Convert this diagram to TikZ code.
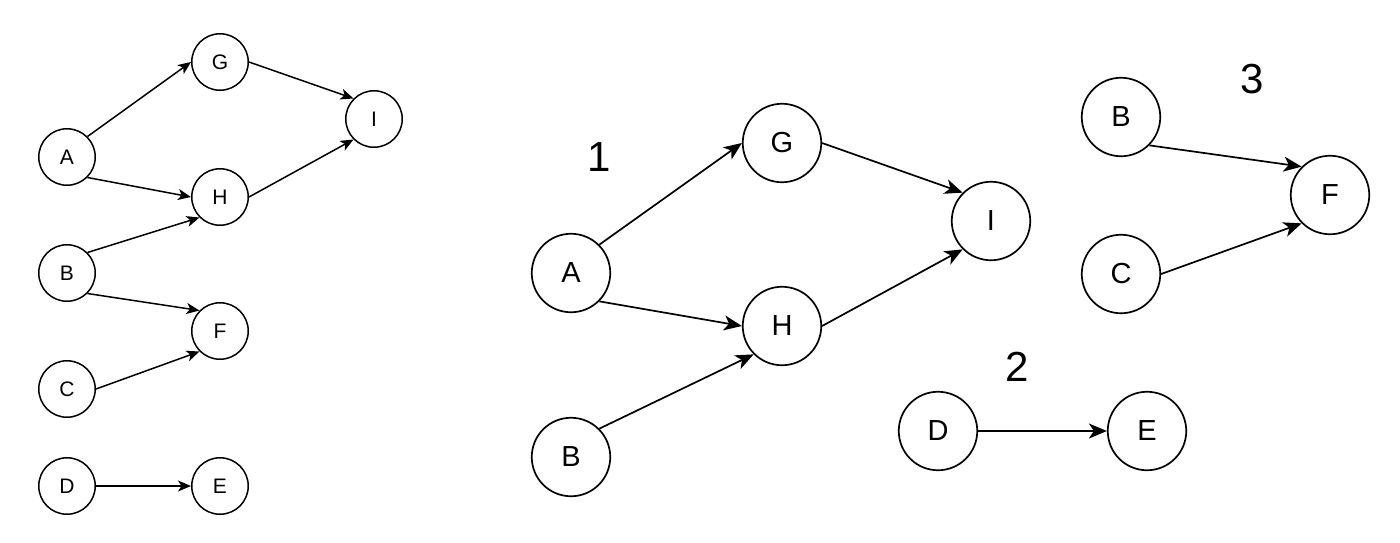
\documentclass[tikz,border=0pt]{standalone}
\usepackage{fontspec}
\setmainfont{Liberation Sans}
\usetikzlibrary{arrows.meta}
\begin{document}
\begin{tikzpicture}[x=1pt,y=-1pt,
  sm/.style={circle,draw,line width=1.5pt,minimum size=56.5pt,inner sep=0pt,font=\fontsize{21}{23}\selectfont},
  bg/.style={circle,draw,line width=1.7pt,minimum size=78.5pt,inner sep=0pt,font=\fontsize{29}{31}\selectfont},
  smarr/.style={line width=1.5pt,-{Stealth[length=13pt,width=11pt,inset=3.5pt]}},
  bgarr/.style={line width=1.7pt,-{Stealth[length=18pt,width=15pt,inset=5pt]}},
  num/.style={font=\fontsize{42}{44}\selectfont,inner sep=0pt}]
\fill[white] (0,0) rectangle (1400,542);
\useasboundingbox (0,0) rectangle (1400,542);

% left overview graph
\node[sm] (sG) at (220,62) {G};
\node[sm] (sI) at (374,119) {I};
\node[sm] (sA) at (67,157) {A};
\node[sm] (sH) at (220,197) {H};
\node[sm] (sB) at (67,273) {B};
\node[sm] (sF) at (220,331) {F};
\node[sm] (sC) at (67,389) {C};
\node[sm] (sD) at (67,486) {D};
\node[sm] (sE) at (220,486) {E};

\draw[smarr] (sA.45) -- (sG.west);
\draw[smarr] (sG.east) -- (sI.135);
\draw[smarr] (sA.-45) -- (sH.west);
\draw[smarr] (sH.east) -- (sI.225);
\draw[smarr] (sB.45) -- (sH.225);
\draw[smarr] (sB.-45) -- (sF.135);
\draw[smarr] (sC.east) -- (sF.225);
\draw[smarr] (sD.east) -- (sE.west);

% component 1
\node[num] (l1) at (599,157) {1};
\node[bg] (A1) at (571,273) {A};
\node[bg] (G1) at (782,143) {G};
\node[bg] (H1) at (782,326) {H};
\node[bg] (B1) at (571,457) {B};
\node[bg] (I1) at (991,221) {I};

\draw[bgarr] (A1.45) -- (G1.west);
\draw[bgarr] (G1.east) -- (I1.135);
\draw[bgarr] (A1.-45) -- (H1.west);
\draw[bgarr] (B1.45) -- (H1.225);
\draw[bgarr] (H1.east) -- (I1.225);

% component 2
\node[num] (l2) at (1017,367) {2};
\node[bg] (D2) at (938,431) {D};
\node[bg] (E2) at (1147,431) {E};
\draw[bgarr] (D2.east) -- (E2.west);

% component 3
\node[num] (l3) at (1252,79) {3};
\node[bg] (B3) at (1121,117) {B};
\node[bg] (C3) at (1121,274) {C};
\node[bg] (F3) at (1330,195) {F};
\draw[bgarr] (B3.-45) -- (F3.135);
\draw[bgarr] (C3.east) -- (F3.225);
\end{tikzpicture}
\end{document}
